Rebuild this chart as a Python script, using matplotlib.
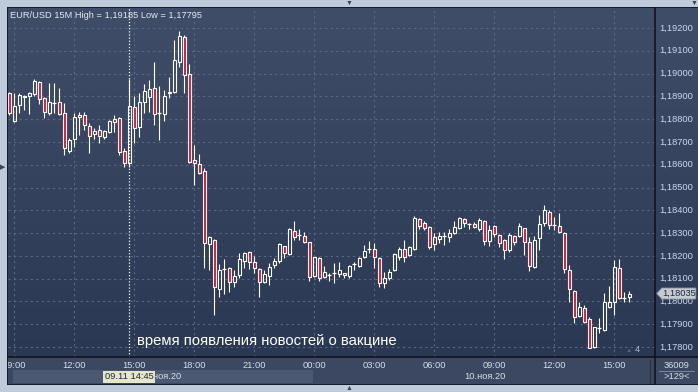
import numpy as np
import pandas as pd
import matplotlib
matplotlib.use('Agg')
import matplotlib.pyplot as plt
from matplotlib.colors import LinearSegmentedColormap
from matplotlib.patches import Polygon, Rectangle
from matplotlib.lines import Line2D
from matplotlib.transforms import blended_transform_factory

plt.rcParams['font.family'] = ['Liberation Sans', 'DejaVu Sans']

# --- data (EUR/USD, 15 minute bars) ---
symbol = 'EUR/USD'
timeframe = '15M'
start = '2020-11-09 08:45'

opens = [1.18915, 1.18792, 1.18862, 1.18897, 1.18902, 1.18910, 1.18963, 1.18893, 1.18827, 1.18871,
         1.18875, 1.18827, 1.18660, 1.18713, 1.18818, 1.18818, 1.18770, 1.18735, 1.18752, 1.18722,
         1.18744, 1.18788, 1.18805, 1.18660, 1.18608, 1.18853, 1.18766, 1.18875, 1.18897, 1.18937,
         1.18827, 1.18823, 1.18919, 1.18919, 1.19051, 1.19160, 1.18998, 1.18621, 1.18603, 1.18573,
         1.18252, 1.18270, 1.18055, 1.18142, 1.18147, 1.18085, 1.18116, 1.18178, 1.18217, 1.18173,
         1.18142, 1.18085, 1.18112, 1.18160, 1.18178, 1.18243, 1.18208, 1.18309, 1.18292, 1.18287,
         1.18261, 1.18112, 1.18191, 1.18107, 1.18116, 1.18125, 1.18121, 1.18125, 1.18112, 1.18164,
         1.18156, 1.18195, 1.18230, 1.18230, 1.18191, 1.18081, 1.18103, 1.18138, 1.18195, 1.18230,
         1.18204, 1.18230, 1.18362, 1.18344, 1.18327, 1.18252, 1.18274, 1.18287, 1.18283, 1.18300,
         1.18322, 1.18362, 1.18340, 1.18340, 1.18318, 1.18353, 1.18265, 1.18331, 1.18292, 1.18270,
         1.18226, 1.18287, 1.18287, 1.18322, 1.18261, 1.18151, 1.18279, 1.18344, 1.18393, 1.18336,
         1.18331, 1.18300, 1.18138, 1.18046, 1.17936, 1.17971, 1.17923, 1.17800, 1.17884, 1.17875,
         1.17976, 1.17998, 1.18147, 1.18015, 1.18020]
highs = [1.18919, 1.18915, 1.18915, 1.18906, 1.18919, 1.18976, 1.18967, 1.18897, 1.18959, 1.18959,
         1.18937, 1.18871, 1.18717, 1.18827, 1.18831, 1.18831, 1.18783, 1.18761, 1.18774, 1.18752,
         1.18796, 1.18818, 1.18810, 1.18673, 1.18976, 1.18902, 1.18915, 1.18954, 1.18972, 1.19051,
         1.18946, 1.18928, 1.18985, 1.19147, 1.19185, 1.19169, 1.19042, 1.18687, 1.18647, 1.18586,
         1.18287, 1.18272, 1.18164, 1.18186, 1.18150, 1.18138, 1.18213, 1.18217, 1.18220, 1.18200,
         1.18147, 1.18138, 1.18169, 1.18191, 1.18257, 1.18245, 1.18322, 1.18353, 1.18318, 1.18305,
         1.18263, 1.18197, 1.18195, 1.18156, 1.18125, 1.18169, 1.18173, 1.18127, 1.18160, 1.18173,
         1.18195, 1.18248, 1.18265, 1.18257, 1.18195, 1.18129, 1.18142, 1.18213, 1.18239, 1.18270,
         1.18243, 1.18375, 1.18366, 1.18353, 1.18331, 1.18300, 1.18305, 1.18305, 1.18318, 1.18353,
         1.18371, 1.18366, 1.18344, 1.18349, 1.18366, 1.18358, 1.18336, 1.18336, 1.18296, 1.18274,
         1.18300, 1.18292, 1.18344, 1.18324, 1.18283, 1.18287, 1.18380, 1.18423, 1.18401, 1.18371,
         1.18388, 1.18303, 1.18160, 1.18050, 1.17998, 1.17985, 1.17932, 1.17890, 1.17928, 1.18037,
         1.18068, 1.18182, 1.18186, 1.18041, 1.18046]
lows = [1.18818, 1.18788, 1.18827, 1.18840, 1.18823, 1.18902, 1.18867, 1.18805, 1.18818, 1.18827,
        1.18818, 1.18643, 1.18652, 1.18678, 1.18731, 1.18752, 1.18652, 1.18713, 1.18695, 1.18713,
        1.18739, 1.18744, 1.18643, 1.18590, 1.18590, 1.18695, 1.18722, 1.18827, 1.18831, 1.18774,
        1.18709, 1.18792, 1.18893, 1.18915, 1.19029, 1.18915, 1.18608, 1.18511, 1.18560, 1.18147,
        1.18138, 1.17941, 1.18020, 1.18033, 1.18041, 1.18063, 1.18103, 1.18147, 1.18142, 1.18125,
        1.18020, 1.18081, 1.18072, 1.18147, 1.18169, 1.18191, 1.18204, 1.18270, 1.18270, 1.18257,
        1.18090, 1.18107, 1.18090, 1.18103, 1.18090, 1.18081, 1.18107, 1.18103, 1.18103, 1.18138,
        1.18151, 1.18191, 1.18213, 1.18147, 1.18063, 1.18059, 1.18094, 1.18134, 1.18182, 1.18173,
        1.18200, 1.18226, 1.18318, 1.18314, 1.18230, 1.18226, 1.18257, 1.18248, 1.18261, 1.18296,
        1.18318, 1.18327, 1.18318, 1.18322, 1.18309, 1.18248, 1.18243, 1.18283, 1.18239, 1.18186,
        1.18217, 1.18248, 1.18283, 1.18204, 1.18134, 1.18148, 1.18226, 1.18331, 1.18318, 1.18314,
        1.18300, 1.18125, 1.17998, 1.17906, 1.17932, 1.17906, 1.17795, 1.17797, 1.17862, 1.17871,
        1.17971, 1.17941, 1.18012, 1.17998, 1.17998]
closes = [1.18827, 1.18858, 1.18906, 1.18902, 1.18915, 1.18967, 1.18888, 1.18831, 1.18875, 1.18871,
          1.18823, 1.18673, 1.18709, 1.18810, 1.18810, 1.18774, 1.18726, 1.18748, 1.18726, 1.18748,
          1.18792, 1.18801, 1.18656, 1.18608, 1.18858, 1.18761, 1.18875, 1.18924, 1.18932, 1.18823,
          1.18827, 1.18902, 1.18915, 1.19060, 1.19165, 1.18994, 1.18612, 1.18608, 1.18564, 1.18257,
          1.18283, 1.18063, 1.18138, 1.18142, 1.18085, 1.18112, 1.18186, 1.18213, 1.18173, 1.18147,
          1.18085, 1.18121, 1.18151, 1.18178, 1.18252, 1.18213, 1.18318, 1.18283, 1.18292, 1.18261,
          1.18107, 1.18195, 1.18103, 1.18129, 1.18116, 1.18125, 1.18138, 1.18116, 1.18156, 1.18164,
          1.18191, 1.18221, 1.18230, 1.18195, 1.18081, 1.18103, 1.18129, 1.18208, 1.18230, 1.18195,
          1.18239, 1.18366, 1.18331, 1.18322, 1.18239, 1.18283, 1.18287, 1.18287, 1.18300, 1.18327,
          1.18366, 1.18344, 1.18340, 1.18327, 1.18358, 1.18265, 1.18314, 1.18296, 1.18257, 1.18226,
          1.18292, 1.18261, 1.18331, 1.18261, 1.18156, 1.18270, 1.18340, 1.18401, 1.18336, 1.18336,
          1.18305, 1.18142, 1.18055, 1.17932, 1.17976, 1.17910, 1.17796, 1.17888, 1.17884, 1.17998,
          1.17998, 1.18151, 1.18015, 1.18015, 1.18035]

price_levels = [1.178, 1.179, 1.180, 1.181, 1.182, 1.183, 1.184, 1.185,
                1.186, 1.187, 1.188, 1.189, 1.190, 1.191, 1.192]
cursor_time = '2020-11-09 14:45'
note = 'время появления новостей о вакцине'
months_ru = {11: 'ноя'}
bars_total = '36009'
scroll_info = '>129<'
marker_count = '4'

# --- layout (pixels of the 698x392 screenshot) ---
W, H = 698, 392
xlim = (-0.2, 129.2)
ylim = (1.177564, 1.192878)

times = pd.date_range(start, periods=len(opens), freq='15min')
x = np.arange(len(opens))
o, h, l, c = map(np.array, (opens, highs, lows, closes))


def box(x0, y0, x1, y1):
    return [x0 / W, 1 - y1 / H, (x1 - x0) / W, (y1 - y0) / H]


def fmt(v):
    return f'{v:.5f}'.replace('.', ',')


fig = plt.figure(figsize=(W / 100, H / 100), dpi=100)
fig.patch.set_facecolor('#bfcbdb')
fig.add_artist(Rectangle((7 / W, 1 - 385 / H), 691 / W, 378 / H,
                         transform=fig.transFigure, fc='#151b28', ec='none', zorder=-5))

bg = LinearSegmentedColormap.from_list('bg', ['#2b3853', '#3f4d69'])
grad = np.linspace(0, 1, 256)[:, None]

# main price area
ax = fig.add_axes(box(8, 8, 655, 357))
ax.imshow(grad, cmap=bg, extent=[*xlim, *ylim], origin='lower', aspect='auto', zorder=0)
ax.set_xlim(*xlim)
ax.set_ylim(*ylim)
ax.axis('off')

hour_mask = (times.minute == 0) & (times.hour % 3 == 0)
tick_x = x[hour_mask]
tick_labels = times[hour_mask].strftime('%H:%M')

grid_kw = dict(colors='#5a6882', linestyles=(0, (2, 3)), linewidth=0.8, zorder=1)
ax.hlines(price_levels, *xlim, **grid_kw)
ax.vlines(tick_x, *ylim, **grid_kw)

cursor_x = x[times == pd.Timestamp(cursor_time)][0]
ax.axvline(cursor_x, color='white', lw=0.9, ls=(0, (1, 1.5)), zorder=2)

# candles
up = c > o
down = c < o
flat = c == o
body_lo = np.minimum(o, c)
body_hi = np.maximum(o, c)
ax.vlines(x, body_hi, h, color='white', lw=0.8, zorder=3)
ax.vlines(x, l, body_lo, color='white', lw=0.8, zorder=3)
ax.bar(x[up], (c - o)[up], bottom=o[up], width=0.6, facecolor='none',
       edgecolor='white', linewidth=0.8, zorder=4)
ax.bar(x[down], (o - c)[down], bottom=c[down], width=0.6, facecolor='#e8112d',
       edgecolor='white', linewidth=0.8, zorder=4)
ax.hlines(c[flat], x[flat] - 0.4, x[flat] + 0.4, color='white', lw=0.9, zorder=4)

fig.text(10 / W, 1 - 15 / H,
         f'{symbol} {timeframe} High = {fmt(max(highs))} Low = {fmt(min(lows))}',
         fontsize=6.7, color='#e4e8ef', va='center', ha='left')
fig.text(137 / W, 1 - 341 / H, note, fontsize=10.7, color='white', va='center', ha='left')
fig.text(629 / W, 1 - 351 / H, '▲', fontsize=4.5, color='#56627a', va='center', ha='center')
fig.text(637 / W, 1 - 350 / H, marker_count, fontsize=6.7, color='#a5bcdc', va='center', ha='center')

# right price scale
rax = fig.add_axes(box(655, 8, 698, 357))
rax.imshow(grad, cmap=bg, extent=[0, 1, *ylim], origin='lower', aspect='auto', zorder=0)
rax.set_xlim(0, 1)
rax.set_ylim(*ylim)
rax.axis('off')
for lvl in price_levels:
    rax.text(0.1, lvl, fmt(lvl), fontsize=6.7, color='#ccd8ec', va='center', ha='left')

last = closes[-1]
px_per_unit = (357 - 8) / (ylim[1] - ylim[0])
hh = 5.5 / px_per_unit
tr = blended_transform_factory(rax.transAxes, rax.transData)
rax.add_patch(Polygon([(0.04, last), (0.16, last + hh), (0.95, last + hh),
                       (0.95, last - hh), (0.16, last - hh)], closed=True,
                      transform=tr, fc='#c6cad2', ec='#8c93a3', lw=0.6, zorder=5))
rax.text(0.56, last, fmt(last), transform=tr, fontsize=6.7, color='#1c2840',
         va='center', ha='center', zorder=6)

# time scale
bax = fig.add_axes(box(8, 357, 655, 384))
bax.set_facecolor('#3c4861')
bax.set_xlim(*xlim)
bax.set_ylim(0, 1)
bax.set_xticks([])
bax.set_yticks([])
for s in bax.spines.values():
    s.set_visible(False)

day_starts = x[(times.hour == 0) & (times.minute == 0)]
bax.fill_between([tick_x[0] - 0.2, day_starts[0] - 0.2], 0.04, 0.52, color='#4b5871', lw=0)
for tx, tl in zip(tick_x, tick_labels):
    bax.text(tx, 0.70, tl, fontsize=6.7, color='#d6deeb', ha='center', va='center', clip_on=True)

edges = [xlim[0], *day_starts, xlim[1]]
day_dates = [times[0]] + [times[i] for i in day_starts]
for a, b, d in zip(edges[:-1], edges[1:], day_dates):
    bax.text((a + b) / 2, 0.26, f'{d.day:02d}.{months_ru[d.month]}.{d:%y}',
             fontsize=6.7, color='#d6deeb', ha='center', va='center')
bax.text(cursor_x, 0.26, pd.Timestamp(cursor_time).strftime('%d.%m %H:%M'),
         fontsize=6.7, color='#1e2638', ha='center', va='center', zorder=5,
         bbox=dict(boxstyle='square,pad=0.2', fc='#e6e6cc', ec='none'))

# corner box
cax = fig.add_axes(box(655, 357, 698, 384))
cax.set_facecolor('#3c4861')
cax.set_xlim(0, 1)
cax.set_ylim(0, 1)
cax.set_xticks([])
cax.set_yticks([])
for s in cax.spines.values():
    s.set_visible(False)
cax.text(0.5, 0.70, bars_total, fontsize=6.7, color='#d6deeb', ha='center', va='center')
cax.text(0.5, 0.26, scroll_info, fontsize=6.7, color='#d6deeb', ha='center', va='center')
cax.plot([0.1, 0.9], [0.48, 0.48], color='#8792a8', lw=0.6)

# separators
fig.add_artist(Line2D([655 / W, 655 / W], [1 - 8 / H, 1 - 384 / H], color='#0c1018', lw=1.1))
fig.add_artist(Line2D([8 / W, 698 / W], [1 - 357 / H, 1 - 357 / H], color='#0c1018', lw=1.1))
fig.add_artist(Line2D([650 / W, 650 / W], [1 - 360 / H, 1 - 383 / H], color='#28324a', lw=0.8))

# window frame arrows
for fx, fy, g in [(349, 3, '▼'), (349, 389, '▲'), (3, 168, '▶'), (694, 3, '▼')]:
    fig.text(fx / W, 1 - fy / H, g, fontsize=5, color='#3a4458', ha='center', va='center')

fig.savefig('out.png', dpi=100, facecolor=fig.get_facecolor())
